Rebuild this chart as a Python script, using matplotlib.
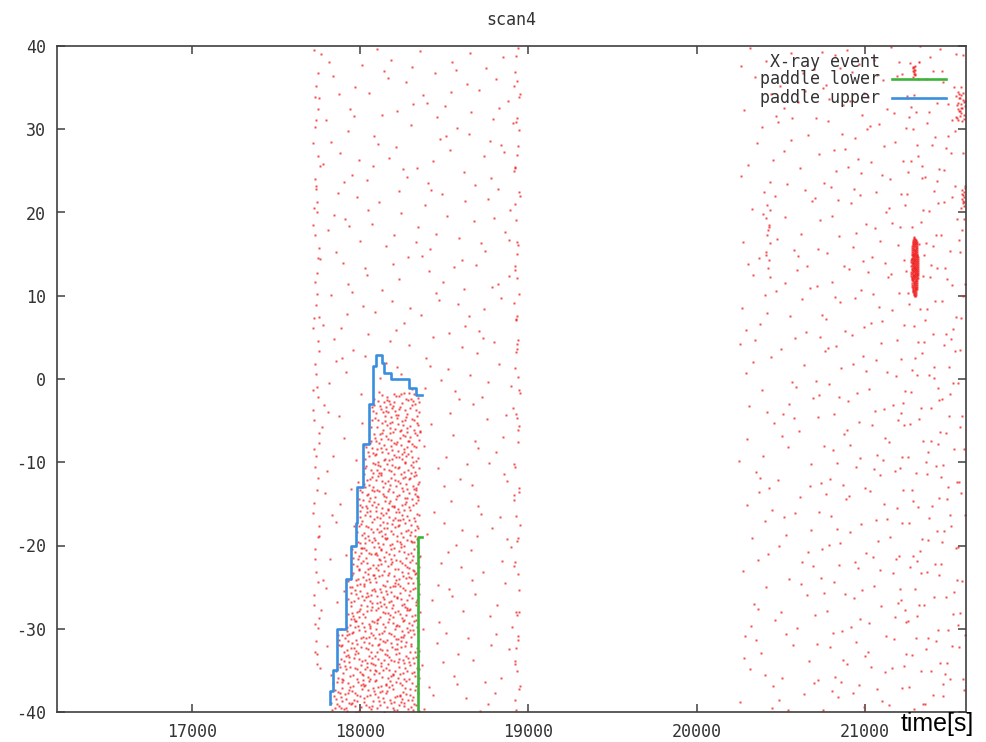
import numpy as np
import matplotlib
matplotlib.use("Agg")
import matplotlib.pyplot as plt
from matplotlib.lines import Line2D

plt.rcParams["axes.unicode_minus"] = False

# ---------------- data ----------------
title = "scan4"
xlabel = "time[s]"
x_range = [16200, 21600]
y_range = [-40, 40]
x_ticks = [17000, 18000, 19000, 20000, 21000]
y_ticks = [-40, -30, -20, -10, 0, 10, 20, 30, 40]
legend_labels = ["X-ray event", "paddle lower", "paddle upper"]

# paddle upper: step trace (time [s], position)
upper_time = [17819, 17819, 17837, 17866, 17914, 17944, 17979, 17985, 18015,
              18056, 18080, 18098, 18128, 18145, 18187, 18294, 18335, 18371]
upper_pos = [-39, -37.5, -35, -30, -24, -20, -17.3, -13, -7.8,
             -3, 1.6, 2.9, 1.9, 0.7, 0, -1.1, -1.9, -1.9]

# paddle lower: step trace
lower_time = [18343, 18343, 18371]
lower_pos = [-41, -19, -19]

# X-ray event regions:
# (t0, t1, y0, y1, approx. number of events)
ev_t0 = [17720, 17720, 18915, 17815, 20250, 20700, 21200, 21284, 21540, 21570, 20410]
ev_t1 = [18950, 17760, 18950, 18355, 20700, 21200, 21600, 21300, 21595, 21595, 20440]
ev_y0 = [-40, -35, -40, -40, -40, -40, -40, 36.2, 31, 20.5, 12]
ev_y1 = [40, 40, 40, -1.5, 40, 40, 40, 37.8, 34.5, 23, 21]
ev_n = [360, 50, 60, 1150, 130, 200, 230, 12, 25, 12, 12]
# dense compact source spot (centre time, centre position, half-width, half-height, count)
spot_t, spot_y, spot_dt, spot_dy, spot_n = 21295, 13.5, 22, 3.6, 200

# ---------------- helpers ----------------
def halton(i, b):
    f, r = 1.0, 0.0
    while i > 0:
        f /= b
        r += f * (i % b)
        i //= b
    return r

def region_points(t0, t1, y0, y1, n, start):
    idx = np.arange(start, start + n)
    u = np.array([halton(int(k), 2) for k in idx])
    v = np.array([halton(int(k), 3) for k in idx])
    return t0 + u * (t1 - t0), y0 + v * (y1 - y0)

rise_t = np.array(upper_time[:12])
rise_p = np.array(upper_pos[:12])

def left_of_upper(t, y):
    k = np.clip(np.searchsorted(rise_p, y), 0, len(rise_t) - 1)
    return t < rise_t[k] + 4

ev_t, ev_y = [], []
start = 1
for i in range(len(ev_n)):
    t, y = region_points(ev_t0[i], ev_t1[i], ev_y0[i], ev_y1[i], ev_n[i], start)
    start += ev_n[i] + 17
    if i == 3:
        keep = ~left_of_upper(t, y)
        t, y = t[keep], y[keep]
    ev_t.append(t)
    ev_y.append(y)

t, y = region_points(-1, 1, -1, 1, int(spot_n * 1.3), start)
keep = t ** 2 + y ** 2 <= 1
ev_t.append(spot_t + t[keep] * spot_dt)
ev_y.append(spot_y + y[keep] * spot_dy)
ev_t = np.concatenate(ev_t)
ev_y = np.concatenate(ev_y)

# ---------------- drawing ----------------
fig = plt.figure(figsize=(9.86, 7.42), dpi=100)
ax = fig.add_axes([57 / 986, 1 - 712 / 742, 909 / 986, 666 / 742])

ev_color = "#f02020"
up_color = "#3a8ee0"
lo_color = "#3cb43c"
frame_col = "#404040"
mono = "DejaVu Sans Mono"

ax.plot(ev_t, ev_y, ls="none", marker="s", ms=1.5, mfc=ev_color, mec="none", alpha=0.8)
ax.plot(lower_time, lower_pos, drawstyle="steps-post", color=lo_color, lw=1.9)
ax.plot(upper_time, upper_pos, drawstyle="steps-post", color=up_color, lw=1.9)

ax.set_xlim(*x_range)
ax.set_ylim(*y_range)
ax.set_xticks(x_ticks)
ax.set_yticks(y_ticks)
ax.tick_params(direction="in", length=6, width=1.1, color=frame_col,
               top=True, right=True, labelsize=12, labelcolor="#333333", pad=8)
for lab in ax.get_xticklabels() + ax.get_yticklabels():
    lab.set_fontfamily(mono)
for s in ax.spines.values():
    s.set_color(frame_col)
    s.set_linewidth(1.2)

ax.set_title(title, fontfamily=mono, fontsize=12, color="#333333", pad=15)
fig.text(901 / 986, 1 - 724 / 742, xlabel, fontfamily="Liberation Sans",
         fontsize=18, color="black", va="center", ha="left")

# legend in gnuplot style (text right aligned, sample on the right)
lx_text = 0.905
lx0, lx1 = 0.919, 0.978
rows = [0.9765, 0.9505, 0.9225]
for lab, yy in zip(legend_labels, rows):
    ax.text(lx_text, yy, lab, transform=ax.transAxes, ha="right", va="center",
            fontfamily=mono, fontsize=12, color="#333333")
ax.add_line(Line2D([(lx0 + lx1) / 2], [rows[0]], transform=ax.transAxes,
                   ls="none", marker="s", ms=1.8, mfc=ev_color, mec="none"))
ax.add_line(Line2D([lx0, lx1], [rows[1]] * 2, transform=ax.transAxes, color=lo_color, lw=1.9))
ax.add_line(Line2D([lx0, lx1], [rows[2]] * 2, transform=ax.transAxes, color=up_color, lw=1.9))

fig.savefig("out.png", dpi=100)
